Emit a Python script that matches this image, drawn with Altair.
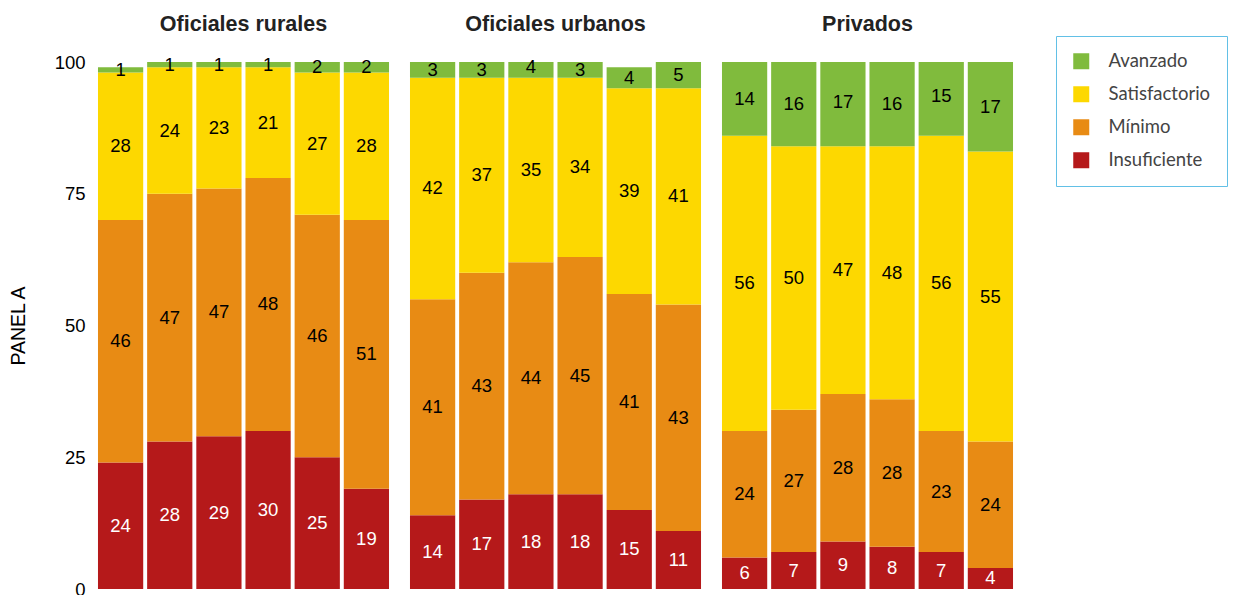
import altair as alt
import pandas as pd

groups = ["Oficiales rurales", "Oficiales urbanos", "Privados"]
levels = ["Avanzado", "Satisfactorio", "Mínimo", "Insuficiente"]
colors = ["#80bb3d", "#fdd800", "#e88b14", "#b5191a"]

insuficiente = {
    "Oficiales rurales": [24, 28, 29, 30, 25, 19],
    "Oficiales urbanos": [14, 17, 18, 18, 15, 11],
    "Privados": [6, 7, 9, 8, 7, 4],
}
minimo = {
    "Oficiales rurales": [46, 47, 47, 48, 46, 51],
    "Oficiales urbanos": [41, 43, 44, 45, 41, 43],
    "Privados": [24, 27, 28, 28, 23, 24],
}
satisfactorio = {
    "Oficiales rurales": [28, 24, 23, 21, 27, 28],
    "Oficiales urbanos": [42, 37, 35, 34, 39, 41],
    "Privados": [56, 50, 47, 48, 56, 55],
}
avanzado = {
    "Oficiales rurales": [1, 1, 1, 1, 2, 2],
    "Oficiales urbanos": [3, 3, 4, 3, 4, 5],
    "Privados": [14, 16, 17, 16, 15, 17],
}

series = {
    "Insuficiente": insuficiente,
    "Mínimo": minimo,
    "Satisfactorio": satisfactorio,
    "Avanzado": avanzado,
}
stack_order = {"Insuficiente": 0, "Mínimo": 1, "Satisfactorio": 2, "Avanzado": 3}

rows = []
for g in groups:
    for lvl, d in series.items():
        for i, v in enumerate(d[g]):
            rows.append({"grupo": g, "barra": i + 1, "nivel": lvl, "valor": v,
                         "orden": stack_order[lvl],
                         "tc": "white" if lvl == "Insuficiente" else "black"})
df = pd.DataFrame(rows)

base = alt.Chart().transform_stack(
    stack="valor", as_=["y0", "y1"], groupby=["grupo", "barra"],
    sort=[alt.SortField("orden", order="ascending")]
).transform_calculate(ymid="(datum.y0 + datum.y1) / 2")

xenc = alt.X("barra:O", axis=None,
             scale=alt.Scale(paddingInner=0.08, paddingOuter=0.02))
yscale = alt.Scale(domain=[0, 100], nice=False, zero=True)

bars = base.mark_bar(clip=True).encode(
    x=xenc,
    y=alt.Y("y0:Q", scale=yscale,
            axis=alt.Axis(values=[0, 25, 50, 75, 100], domain=False, ticks=False,
                          grid=False, labelFontSize=18.5, labelColor="#000",
                          labelFont="Liberation Sans", labelPadding=12,
                          title="PANEL A", titleFontSize=19.5, titleFont="Liberation Sans",
                          titleFontWeight="normal", titleColor="#000", titlePadding=26)),
    y2="y1:Q",
    color=alt.Color("nivel:N", scale=alt.Scale(domain=levels, range=colors),
                    legend=alt.Legend(title=None, orient="none", legendX=959, legendY=-26,
                                      symbolType="square", symbolSize=256,
                                      symbolStrokeWidth=0,
                                      labelFontSize=18.5, labelFont="Lato",
                                      labelColor="#444", labelOffset=18,
                                      rowPadding=14, padding=16,
                                      strokeColor="#62c0e6", cornerRadius=0)),
)

texts = base.mark_text(fontSize=18.5, font="Liberation Sans", baseline="middle").encode(
    x=xenc,
    y=alt.Y("ymid:Q", scale=yscale),
    text=alt.Text("valor:Q"),
    color=alt.Color("tc:N", scale=None),
)

chart = alt.layer(bars, texts, data=df).properties(width=293, height=527).facet(
    column=alt.Column("grupo:N", sort=groups, title=None,
                      header=alt.Header(labelFontSize=21.5, labelFontWeight="bold",
                                        labelFont="Liberation Sans", labelColor="#222",
                                        labelPadding=20)),
    spacing=19,
).properties(
    padding={"top": 5, "left": 0, "right": 0, "bottom": 5}
).configure_view(stroke=None)

chart.save("out.html", embed_options={"renderer": "svg", "actions": False})
